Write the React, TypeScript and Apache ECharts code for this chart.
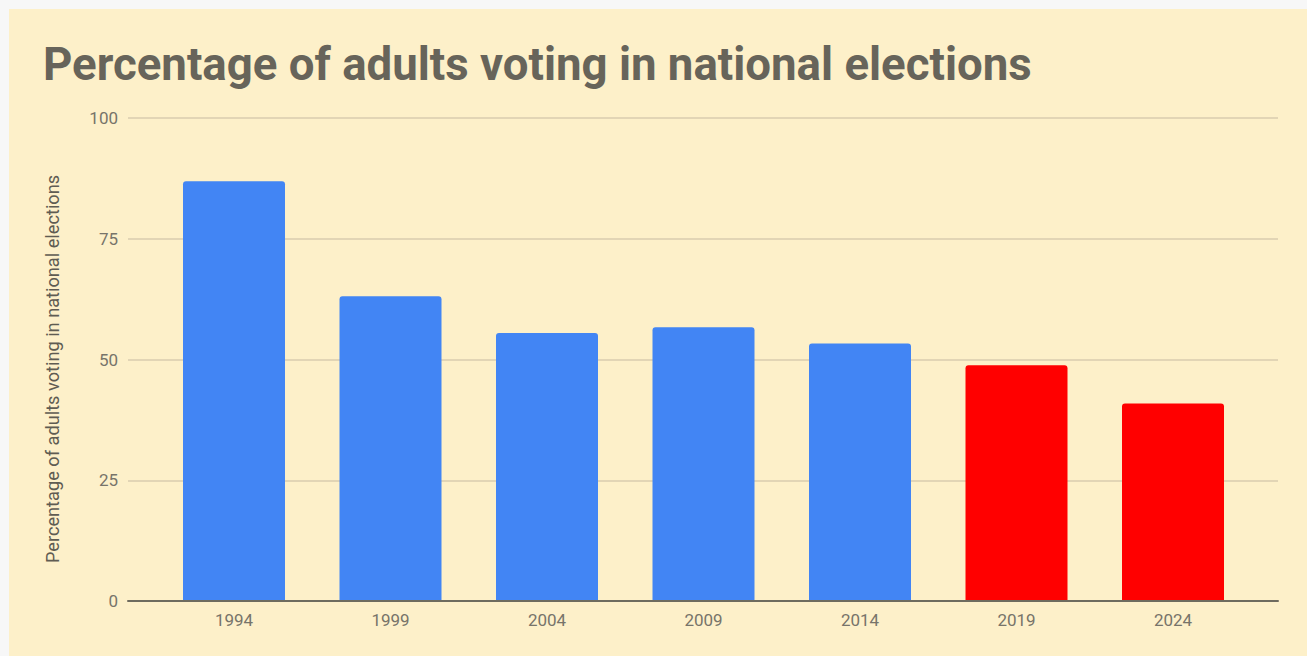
import React, { useEffect, useRef } from "react";
import * as echarts from "echarts";

const categories = ["1994", "1999", "2004", "2009", "2014", "2019", "2024"];
const turnout = [86.9, 63.1, 55.5, 56.7, 53.3, 48.8, 40.9];
const barColors = ["#4285F4", "#4285F4", "#4285F4", "#4285F4", "#4285F4", "#FF0000", "#FF0000"];
const yTicks = [0, 25, 50, 75, 100];

const TITLE = "Percentage of adults voting in national elections";
const Y_NAME = "Percentage of adults voting in national elections";

export default function App() {
  const ref = useRef<HTMLDivElement>(null);

  useEffect(() => {
    document.body.style.margin = "0";
    if (!ref.current) return;
    const chart = echarts.init(ref.current, undefined, { renderer: "svg" });
    const font = "Roboto, 'Noto Sans', sans-serif";
    chart.setOption({
      animation: false,
      backgroundColor: "#FDF0C9",
      title: {
        text: TITLE,
        left: 29,
        top: 27,
        textStyle: {
          fontFamily: font,
          fontSize: 45.6,
          fontWeight: "bold",
          color: "#67645A",
        },
      },
      graphic: [
        {
          type: "text",
          x: 43,
          y: 360,
          rotation: Math.PI / 2,
          style: {
            text: Y_NAME,
            fontFamily: font,
            fontSize: 18.2,
            fill: "#5F5C52",
            align: "center",
            verticalAlign: "middle",
          },
        },
      ],
      grid: [
        { left: 119, right: 29, top: 109, bottom: 55 },
        { left: 146.75, width: 1095.5, top: 109, bottom: 55 },
      ],
      xAxis: [
        {
          type: "category",
          gridIndex: 0,
          data: categories,
          axisLine: { show: true, lineStyle: { color: "#6E6B5E", width: 2 } },
          axisTick: { show: false },
          axisLabel: { show: false },
          splitLine: { show: false },
          z: 3,
        },
        {
          type: "category",
          gridIndex: 1,
          data: categories,
          axisLine: { show: false },
          axisTick: { show: false },
          axisLabel: {
            show: true,
            margin: 10,
            fontFamily: font,
            fontSize: 17,
            color: "#77746A",
          },
        },
      ],
      yAxis: [
        {
          type: "value",
          gridIndex: 0,
          min: 0,
          max: 100,
          interval: 25,
          axisLine: { show: false },
          axisTick: { show: false },
          axisLabel: {
            margin: 10,
            fontFamily: font,
            fontSize: 17,
            color: "#77746A",
            formatter: (v: number) => (yTicks.includes(v) ? String(v) : ""),
          },
          splitLine: { show: true, lineStyle: { color: "#D8CDAE", width: 1.5 } },
        },
        {
          type: "value",
          gridIndex: 1,
          min: 0,
          max: 100,
          show: false,
          splitLine: { show: false },
        },
      ],
      series: [
        {
          type: "bar",
          xAxisIndex: 1,
          yAxisIndex: 1,
          barWidth: 102,
          data: turnout.map((v, i) => ({
            value: v,
            itemStyle: { color: barColors[i], borderRadius: [3, 3, 0, 0] },
          })),
          z: 2,
        },
      ],
    });
    return () => chart.dispose();
  }, []);

  return (
    <div style={{ position: "relative", width: 1307, height: 656, background: "#F7F7F7" }}>
      <div
        ref={ref}
        style={{ position: "absolute", left: 9, top: 9, width: 1298, height: 647 }}
      />
    </div>
  );
}
